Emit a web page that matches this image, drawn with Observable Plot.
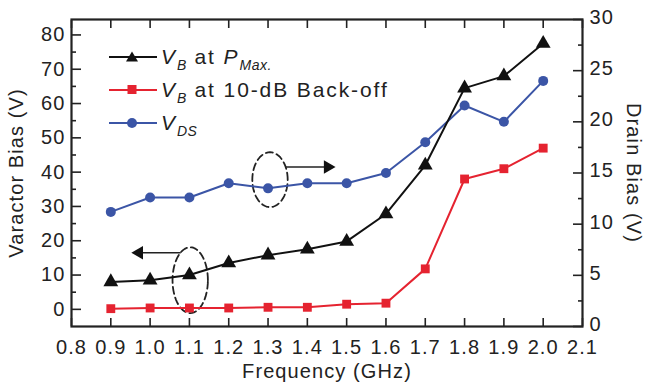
<!DOCTYPE html>
<html>
<head>
<meta charset="utf-8">
<script src="https://cdn.jsdelivr.net/npm/d3@7"></script>
<script src="https://cdn.jsdelivr.net/npm/@observablehq/plot@0.6"></script>
<style>
  body { margin: 0; background: #fff; }
  #wrap { position: relative; width: 647px; height: 389px; font-family: "Liberation Sans", Arial, sans-serif; color: #222; }
  #wrap svg text { letter-spacing: 1.1px; }
  #legend { position: absolute; left: 108px; top: 40px; font-size: 21px; letter-spacing: 1.9px; }
  .row { display: flex; align-items: center; height: 33px; }
  .row svg { margin-right: 3px; }
  .row i { font-style: italic; }
  .row sub { font-size: 14px; font-style: italic; vertical-align: -6px; line-height: 0; letter-spacing: 0.5px; }
</style>
</head>
<body>
<div id="wrap"></div>
<script>
// ---- data ----
const freq   = [0.9, 1.0, 1.1, 1.2, 1.3, 1.4, 1.5, 1.6, 1.7, 1.8, 1.9, 2.0];
const vbMax  = [8.0, 8.5, 10.0, 13.5, 15.8, 17.5, 19.8, 27.8, 42.0, 64.5, 68.0, 77.5];
const vbBack = [0.2, 0.4, 0.4, 0.4, 0.6, 0.6, 1.5, 1.8, 11.8, 38.0, 41.0, 47.0];
const vds    = [11.2, 12.6, 12.6, 14.0, 13.5, 14.0, 14.0, 15.0, 18.0, 21.6, 20.0, 24.0];

const xTicks      = [0.8, 0.9, 1.0, 1.1, 1.2, 1.3, 1.4, 1.5, 1.6, 1.7, 1.8, 1.9, 2.0, 2.1];
const leftMajor   = [0, 10, 20, 30, 40, 50, 60, 70, 80];
const leftMinor   = [5, 15, 25, 35, 45, 55, 65, 75];
const rightMajor  = [0, 5, 10, 15, 20, 25, 30];
const rightMinor  = [2.5, 7.5, 12.5, 17.5, 22.5, 27.5];

const leftDomain  = [-5, 84.5];
const rightDomain = [0, 30];

// annotations (data coordinates on left axis)
const ellipses = [
  {cx: 1.102, cy: 8.5, rx: 0.045, ry: 9.6},
  {cx: 1.305, cy: 37.8, rx: 0.045, ry: 8.0}
];
const arrows = [
  {x1: 1.078, x2: 0.972, y: 16.5, rotate: -90},
  {x1: 1.345, x2: 1.452, y: 41.5, rotate: 90}
];

// ---- helpers ----
const k = (leftDomain[1] - leftDomain[0]) / (rightDomain[1] - rightDomain[0]);
const toLeft = v => leftDomain[0] + (v - rightDomain[0]) * k;
const fromLeft = v => rightDomain[0] + (v - leftDomain[0]) / k;

const black = "#111", red = "#e52330", blue = "#3b55a6";

const rows = freq.map((f, i) => ({f, vbMax: vbMax[i], vbBack: vbBack[i], vds: vds[i], vdsL: toLeft(vds[i])}));

const ellPts = ellipses.flatMap((e, j) =>
  d3.range(0, 361, 6).map(a => ({id: j, x: e.cx + e.rx * Math.cos(a * Math.PI / 180), y: e.cy + e.ry * Math.sin(a * Math.PI / 180)})));

const chart = Plot.plot({
  width: 647,
  height: 389,
  marginLeft: 71,
  marginRight: 65,
  marginTop: 19,
  marginBottom: 63,
  style: {fontFamily: "Liberation Sans, Arial, sans-serif", fontSize: "20px", color: "#222", background: "white"},
  x: {domain: [0.8, 2.1]},
  y: {domain: leftDomain},
  marks: [
    // axes
    Plot.axisX(xTicks, {anchor: "bottom", tickSize: -8, tickPadding: 21, tickFormat: d3.format(".1f"), label: null, strokeWidth: 1.6, fontSize: 20}),
    Plot.axisX(xTicks, {anchor: "top", tickSize: -8, tickFormat: () => "", label: null, strokeWidth: 1.6}),
    Plot.axisY(leftMajor, {anchor: "left", tickSize: -10, tickPadding: 16, label: null, strokeWidth: 1.6, fontSize: 20}),
    Plot.axisY(leftMinor, {anchor: "left", tickSize: -5, tickFormat: () => "", label: null, strokeWidth: 1.6}),
    Plot.axisY(rightMajor.map(toLeft), {anchor: "right", tickSize: -10, tickFormat: () => "", label: null, strokeWidth: 1.6}),
    Plot.axisY(rightMajor.map(toLeft), {anchor: "right", tickSize: 0, tickPadding: 7, dy: -2, tickFormat: d => String(Math.round(fromLeft(d))), label: null, fontSize: 20}),
    Plot.axisY(rightMinor.map(toLeft), {anchor: "right", tickSize: -5, tickFormat: () => "", label: null, strokeWidth: 1.6}),
    Plot.frame({stroke: "#222", strokeWidth: 2.2}),
    // axis titles
    Plot.text(["Varactor Bias (V)"], {frameAnchor: "left", textAnchor: "middle", rotate: -90, dx: -55, text: d => d, fontSize: 20}),
    Plot.text(["Drain Bias (V)"], {frameAnchor: "right", textAnchor: "middle", rotate: 90, dx: 51, text: d => d, fontSize: 20}),
    Plot.text(["Frequency (GHz)"], {frameAnchor: "bottom", dy: 51, text: d => d, fontSize: 20}),
    // annotations
    Plot.line(ellPts, {x: "x", y: "y", z: "id", stroke: "#222", strokeWidth: 1.8, strokeDasharray: "7,4"}),
    Plot.link(arrows, {x1: "x1", x2: "x2", y1: "y", y2: "y", stroke: "#222", strokeWidth: 1.4}),
    Plot.dot(arrows, {x: "x2", y: "y", symbol: "triangle", rotate: "rotate", r: 5, fill: "#111", stroke: "none"}),
    // series
    Plot.line(rows, {x: "f", y: "vdsL", stroke: blue, strokeWidth: 2}),
    Plot.dot(rows, {x: "f", y: "vdsL", symbol: "circle", r: 5, fill: blue, stroke: "none"}),
    Plot.line(rows, {x: "f", y: "vbMax", stroke: black, strokeWidth: 2}),
    Plot.dot(rows, {x: "f", y: "vbMax", symbol: "triangle", r: 5.5, fill: black, stroke: "none"}),
    Plot.line(rows, {x: "f", y: "vbBack", stroke: red, strokeWidth: 2}),
    Plot.dot(rows, {x: "f", y: "vbBack", symbol: "square", r: 5, fill: red, stroke: "none"})
  ]
});

const wrap = document.getElementById("wrap");
wrap.appendChild(chart);

function sw(color, sym) {
  let m;
  if (sym === "tri") m = `<path d="M24,4.5 L30,14.5 L18,14.5 Z" fill="${color}"/>`;
  else if (sym === "sq") m = `<rect x="19.5" y="5" width="9" height="9" fill="${color}"/>`;
  else m = `<circle cx="24" cy="10" r="5" fill="${color}"/>`;
  return `<svg width="50" height="20"><line x1="1" x2="49" y1="10" y2="10" stroke="${color}" stroke-width="2"/>${m}</svg>`;
}
const legend = document.createElement("div");
legend.id = "legend";
legend.innerHTML =
  `<div class="row">${sw(black, "tri")}<span><i>V</i><sub>B</sub> at <i>P</i><sub>Max.</sub></span></div>` +
  `<div class="row">${sw(red, "sq")}<span><i>V</i><sub>B</sub> at 10-dB Back-off</span></div>` +
  `<div class="row">${sw(blue, "circle")}<span><i>V</i><sub>DS</sub></span></div>`;
wrap.appendChild(legend);
</script>
</body>
</html>
